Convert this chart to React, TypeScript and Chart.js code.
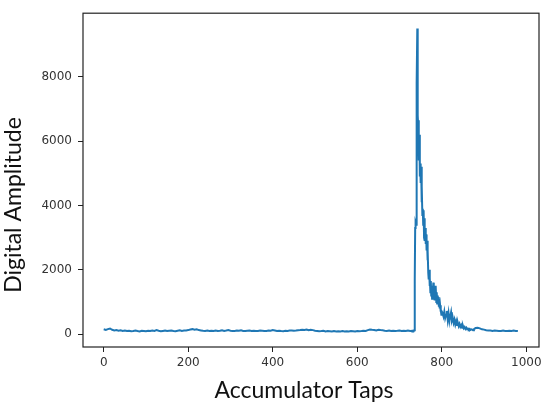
import React, { useEffect, useRef } from "react";
import { Chart, registerables } from "chart.js";

Chart.register(...registerables);

// Accumulator tap index segments (start, step) and amplitudes
const baseStart = 0;
const baseStep = 5;
const baseAmp = [
  150, 130, 155, 175, 135, 115, 125, 105, 120, 100, 110,
  95, 105, 90, 100, 115, 95, 85, 105, 100, 90,
  105, 95, 115, 100, 125, 105, 90, 100, 110, 95,
  105, 115, 100, 90, 105, 120, 100, 110, 115, 125,
  145, 155, 135, 150, 125, 115, 105, 100, 110, 95,
  105, 100, 115, 95, 105, 120, 100, 110, 125, 105,
  100, 95, 110, 105, 120, 100, 95, 105, 115, 100,
  105, 95, 100, 110, 105, 95, 100, 115, 105, 125,
  115, 100, 105, 95, 90, 105, 100, 110, 115, 105,
  110, 120, 125, 135, 130, 145, 120, 135, 125, 105,
  100, 90, 95, 105, 85, 95, 90, 80, 95, 85,
  90, 85, 95, 80, 90, 85, 95, 90, 85, 100,
  90, 95, 105, 100, 125, 145, 135, 130, 115, 135,
  125, 120, 105, 100, 110, 95, 105, 100, 105, 115,
  100, 105, 95, 110, 100, 105,
];

const peakStart = 731;
const peakStep = 1;
const peakAmp = [
  95, 105, 100, 110, 120, 1700, 3300, 3450, 3400, 5600,
  7800, 9500, 6800, 6500, 6650, 5400, 6200, 4900, 5300, 4700,
  5200, 4100, 4600, 3700, 3900, 3400, 3850, 3000, 3600, 2900,
  3300, 2800, 3100, 2600, 2900, 2300, 2600, 1900, 1700, 2000,
  1500, 1750, 1300, 1650, 1200, 1500, 1100, 1450, 1250, 1600,
  1200, 1400, 1050, 1350, 1150, 1500, 1000, 1300, 950, 1200,
  1000, 1150, 850, 1000, 800, 900, 700, 750, 600, 700,
];

const decayStart = 802;
const decayStep = 2;
const decayAmp = [
  650, 550, 700, 500, 600, 720, 450, 650, 400, 550,
  680, 420, 500, 350, 450, 300, 400, 280, 350, 250,
  320, 230, 280, 200, 260, 180, 220, 160, 200, 150,
  170, 140, 160, 130, 150, 140, 120, 150, 170, 190,
];

const tailStart = 885;
const tailStep = 5;
const tailAmp = [
  200, 180, 150, 140, 120, 110, 115, 100, 110, 105,
  95, 100, 110, 100, 95, 105, 100, 110, 100, 95,
];

const xTicks = [0, 200, 400, 600, 800, 1000];
const yTicks = [0, 2000, 4000, 6000, 8000];
const xTitle = "Accumulator Taps";
const yTitle = "Digital Amplitude";

function segment(start: number, step: number, amps: number[]) {
  return amps.map((y, i) => ({ x: start + i * step, y }));
}

const points = [
  ...segment(baseStart, baseStep, baseAmp),
  ...segment(peakStart, peakStep, peakAmp),
  ...segment(decayStart, decayStep, decayAmp),
  ...segment(tailStart, tailStep, tailAmp),
];

const framePlugin = {
  id: "frameAndTitles",
  afterDraw(chart: any) {
    const { ctx, chartArea } = chart;
    const { left, top, right, bottom } = chartArea;
    ctx.save();
    ctx.strokeStyle = "#222";
    ctx.lineWidth = 1.2;
    ctx.strokeRect(left, top, right - left, bottom - top);

    ctx.fillStyle = "#111";
    ctx.font = "23px Lato";
    ctx.textAlign = "center";
    ctx.textBaseline = "alphabetic";
    ctx.fillText(xTitle, 304, 398);

    ctx.translate(21, 205);
    ctx.rotate(-Math.PI / 2);
    ctx.fillText(yTitle, 0, 0);
    ctx.restore();
  },
};

export default function App() {
  const ref = useRef<HTMLCanvasElement | null>(null);
  useEffect(() => {
    if (!ref.current) return;
    const chart = new Chart(ref.current, {
      type: "line",
      data: {
        datasets: [
          {
            data: points,
            borderColor: "#1f77b4",
            borderWidth: 2,
            pointRadius: 0,
            fill: false,
            tension: 0,
          },
        ],
      },
      options: {
        responsive: false,
        animation: false,
        layout: { padding: { top: 8, right: 11, left: 0, bottom: 0 } },
        plugins: { legend: { display: false }, tooltip: { enabled: false } },
        scales: {
          x: {
            type: "linear",
            min: -49,
            max: 1030,
            afterBuildTicks: (s: any) => {
              s.ticks = xTicks.map((v) => ({ value: v }));
            },
            afterFit: (s: any) => {
              s.height = 60;
            },
            border: { display: false },
            grid: {
              display: true,
              drawOnChartArea: false,
              drawTicks: true,
              tickLength: 5,
              color: "#222",
            },
            ticks: {
              color: "#333",
              font: { family: "DejaVu Sans", size: 12 },
              padding: 4,
              maxRotation: 0,
              callback: (v: any) => String(v),
            },
          },
          y: {
            type: "linear",
            min: -400,
            max: 9975,
            afterBuildTicks: (s: any) => {
              s.ticks = yTicks.map((v) => ({ value: v }));
            },
            afterFit: (s: any) => {
              s.width = 83;
            },
            border: { display: false },
            grid: {
              display: true,
              drawOnChartArea: false,
              drawTicks: true,
              tickLength: 5,
              color: "#222",
            },
            ticks: {
              color: "#333",
              font: { family: "DejaVu Sans", size: 12 },
              padding: 6,
              callback: (v: any) => String(v),
            },
          },
        },
      },
      plugins: [framePlugin],
    });
    return () => chart.destroy();
  }, []);
  return (
    <div style={{ position: "fixed", left: 0, top: 0, width: 550, height: 407, background: "#fff" }}>
      <canvas ref={ref} width={550} height={407} />
    </div>
  );
}
